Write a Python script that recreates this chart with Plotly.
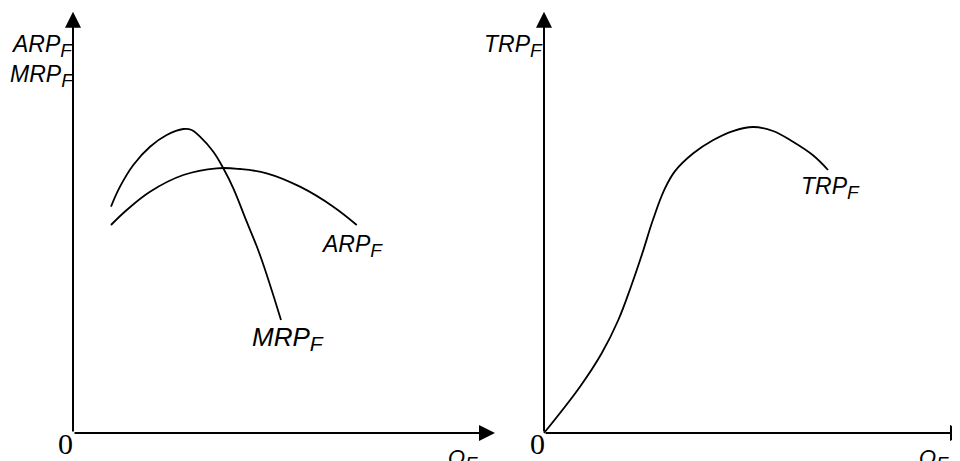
import plotly.graph_objects as go

# ---- data (conceptual units; origin of each panel at 0,0) ----
mrp_q = [0.900, 1.114, 1.429, 1.825, 2.220, 2.614, 2.813, 3.009, 3.325, 3.562, 3.799, 4.116, 4.431, 4.929]
mrp_v = [5.363, 5.837, 6.351, 6.784, 7.062, 7.204, 7.180, 7.021, 6.666, 6.273, 5.799, 5.007, 4.218, 2.678]

arp_q = [0.900, 1.273, 1.825, 2.614, 3.405, 3.957, 4.590, 5.379, 6.168, 6.723]
arp_v = [4.929, 5.284, 5.718, 6.114, 6.273, 6.256, 6.154, 5.837, 5.363, 4.929]

trp_q = [0.000, 0.853, 1.367, 1.761, 2.060, 2.330, 2.580, 2.850, 3.100, 3.538, 4.012, 4.479, 4.953, 5.427, 5.900, 6.374, 6.730]
trp_v = [0.000, 1.097, 1.889, 2.678, 3.467, 4.258, 5.047, 5.760, 6.200, 6.628, 6.943, 7.156, 7.251, 7.156, 6.900, 6.580, 6.232]

FONT = "Liberation Sans"
SERIF = "Liberation Serif"
LW = 1.8

# figure geometry (page has an 8px body margin)
W, H = 952, 453
S = 42.2                       # pixels per unit
LO = (65, 425)                 # left panel origin, figure pixels
RO = (536, 425)                # right panel origin, figure pixels
D1, D2 = 0.53, 0.49            # left domain end / right domain start

fig = go.Figure()
line = dict(color="black", width=LW, shape="spline", smoothing=1.1)
fig.add_trace(go.Scatter(x=mrp_q, y=mrp_v, mode="lines", line=line, xaxis="x", yaxis="y", hoverinfo="skip"))
fig.add_trace(go.Scatter(x=arp_q, y=arp_v, mode="lines", line=line, xaxis="x", yaxis="y", hoverinfo="skip"))
fig.add_trace(go.Scatter(x=trp_q, y=trp_v, mode="lines", line=line, xaxis="x2", yaxis="y2", hoverinfo="skip"))

ann = []

def axis_arrow(xr, yr, tipx, tipy):
    ann.append(dict(x=tipx, y=tipy, ax=0, ay=0, xref=xr, yref=yr, axref=xr, ayref=yr,
                    text="", showarrow=True, arrowhead=2, arrowwidth=2, arrowsize=1.6,
                    arrowcolor="black", standoff=0, startstandoff=0))

axis_arrow("x", "y", 0, 9.98)
axis_arrow("x", "y", 10.0, 0)
axis_arrow("x2", "y2", 0, 9.98)
axis_arrow("x2", "y2", 10.0, 0)

def sub(main, s, size):
    return "<i>%s<sub><span style='font-size:%dpx'>%s</span></sub></i>" % (main, size, s)

def label(xr, yr, x, y, txt, size=21, xanchor="left", yanchor="middle", family=FONT):
    ann.append(dict(x=x, y=y, xref=xr, yref=yr, text=txt, showarrow=False,
                    xanchor=xanchor, yanchor=yanchor, font=dict(family=family, size=size, color="black")))

label("x", "y", 0.04, 9.18, sub("ARP", "F", 19), size=23, xanchor="right")
label("x", "y", 0.06, 8.46, sub("MRP", "F", 19), size=23, xanchor="right")
label("x", "y", 5.84, 4.43, sub("ARP", "F", 19), size=23)
label("x", "y", 4.20, 2.24, sub("MRP", "F", 21), size=26)
label("x", "y", -0.17, -0.24, "0", size=30, xanchor="center", family=SERIF)
label("x", "y", 8.84, -0.62, sub("Q", "F", 19), size=22)

label("x2", "y2", 0.03, 9.18, sub("TRP", "F", 19), size=23, xanchor="right")
label("x2", "y2", 6.04, 5.80, sub("TRP", "F", 19), size=23)
label("x2", "y2", -0.15, -0.24, "0", size=30, xanchor="center", family=SERIF)
label("x2", "y2", 8.84, -0.62, sub("Q", "F", 19), size=22)

ax_common = dict(visible=False, showgrid=False, zeroline=False, fixedrange=True)
yr = [-(H - LO[1]) / S, LO[1] / S]
fig.update_layout(
    width=W, height=H,
    margin=dict(l=0, r=0, t=0, b=0),
    paper_bgcolor="white", plot_bgcolor="white",
    showlegend=False,
    xaxis=dict(domain=[0, D1], range=[-LO[0] / S, (D1 * W - LO[0]) / S], **ax_common),
    yaxis=dict(domain=[0, 1], range=yr, **ax_common),
    xaxis2=dict(domain=[D2, 1], range=[-(RO[0] - D2 * W) / S, (W - RO[0]) / S], anchor="y2", **ax_common),
    yaxis2=dict(domain=[0, 1], range=yr, anchor="x2", **ax_common),
    annotations=ann,
)

fig.write_html("out.html")
